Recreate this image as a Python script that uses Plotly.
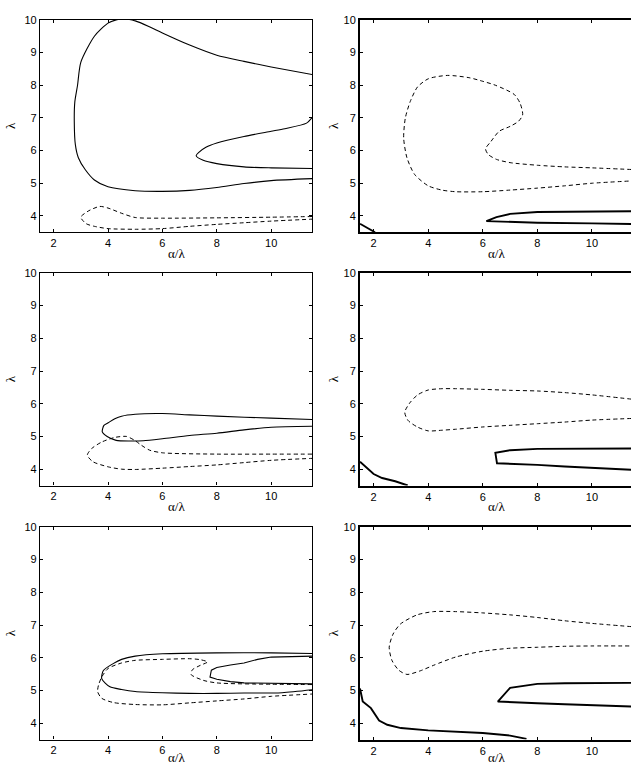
import plotly.graph_objects as go

# ---------------- data ----------------
x_ticks = [2, 4, 6, 8, 10]
y_ticks = [4, 5, 6, 7, 8, 9, 10]
x_label = "α/λ"
y_label = "λ"

# Panel 1 (top-left)
p1_solid_a_x = [11.5, 10, 9, 8, 7, 6, 5.5, 5.0, 4.6, 4.3, 4.0, 3.5, 3.0, 2.88, 2.78, 2.76, 2.8, 2.91, 3.16, 3.5, 4.0, 5, 6, 7, 8, 9, 10, 11.5]
p1_solid_a_y = [8.33, 8.56, 8.73, 8.92, 9.23, 9.6, 9.8, 9.97, 10.03, 10.0, 9.9, 9.5, 8.7, 8.0, 7.49, 6.9, 6.18, 5.78, 5.42, 5.1, 4.89, 4.77, 4.75, 4.78, 4.87, 4.99, 5.08, 5.14]
p1_solid_b_x = [11.5, 11.3, 10.5, 10, 9, 8, 7.6, 7.35, 7.24, 7.5, 8, 9, 10, 11.5]
p1_solid_b_y = [7.01, 6.84, 6.67, 6.59, 6.43, 6.23, 6.1, 5.95, 5.84, 5.7, 5.6, 5.5, 5.47, 5.45]
p1_dash_x = [11.5, 10, 8, 6, 5, 4.5, 4.0, 3.7, 3.3, 3.0, 3.2, 3.5, 4, 5, 6, 7, 8, 9, 10, 11.5]
p1_dash_y = [3.98, 3.96, 3.94, 3.93, 3.95, 4.08, 4.24, 4.29, 4.16, 3.96, 3.76, 3.68, 3.61, 3.59, 3.61, 3.68, 3.74, 3.79, 3.84, 3.9]

# Panel 2 (top-right)
p2_dash_x = [11.45, 10, 9, 8, 7, 6.5, 6.2, 6.1, 6.3, 6.6, 7.0, 7.3, 7.46, 7.37, 7.15, 6.46, 6.0, 5.5, 4.71, 4.01, 3.61, 3.34, 3.16, 3.1, 3.22, 3.5, 4.0, 4.5, 5, 6, 7, 8, 9, 10, 11.45]
p2_dash_y = [5.42, 5.47, 5.5, 5.55, 5.63, 5.73, 5.88, 6.05, 6.28, 6.59, 6.74, 6.89, 7.09, 7.44, 7.72, 8.0, 8.12, 8.23, 8.3, 8.2, 7.95, 7.5, 6.99, 6.38, 5.78, 5.27, 4.92, 4.79, 4.74, 4.74, 4.79, 4.85, 4.92, 5.0, 5.07]
p2_solid_x = [11.45, 10, 8, 7, 6.5, 6.13, 7, 8, 10, 11.45]
p2_solid_y = [4.14, 4.14, 4.12, 4.06, 3.96, 3.84, 3.81, 3.79, 3.77, 3.75]
p2_corner_x = [1.5, 2.05]
p2_corner_y = [3.76, 3.5]

# Panel 3 (middle-left)
p3_solid_x = [11.5, 10, 8, 7, 6, 5, 4.5, 4.25, 4.01, 3.85, 3.79, 3.97, 4.3, 4.8, 5.3, 6, 7, 8, 9, 10, 11.5]
p3_solid_y = [5.52, 5.56, 5.62, 5.66, 5.7, 5.68, 5.62, 5.54, 5.42, 5.34, 5.14, 5.0, 4.88, 4.86, 4.87, 4.93, 5.03, 5.1, 5.2, 5.28, 5.31]
p3_dash_x = [11.5, 10, 8, 6, 5.53, 5.23, 4.98, 4.68, 4.25, 3.77, 3.4, 3.24, 3.44, 4.01, 4.5, 5, 6, 7, 8, 9, 10, 11.5]
p3_dash_y = [4.46, 4.46, 4.46, 4.5, 4.58, 4.73, 4.88, 5.0, 4.97, 4.83, 4.63, 4.43, 4.23, 4.07, 4.0, 3.99, 4.03, 4.08, 4.13, 4.2, 4.27, 4.33]

# Panel 4 (middle-right)
p4_dash_x = [11.45, 10, 9, 8, 7, 6, 5, 4.5, 4, 3.61, 3.32, 3.14, 3.26, 3.6, 4, 4.5, 5, 6, 7, 8, 9, 10, 11.45]
p4_dash_y = [6.14, 6.27, 6.34, 6.39, 6.41, 6.44, 6.46, 6.46, 6.42, 6.27, 6.02, 5.74, 5.49, 5.29, 5.17, 5.19, 5.22, 5.29, 5.34, 5.39, 5.44, 5.5, 5.55]
p4_solid_x = [11.45, 10, 8, 7, 6.46, 6.52, 7, 8, 9, 10, 11.45]
p4_solid_y = [4.63, 4.63, 4.62, 4.58, 4.5, 4.18, 4.17, 4.13, 4.08, 4.04, 3.98]
p4_corner_x = [1.5, 2.0, 2.31, 2.79, 3.25]
p4_corner_y = [4.23, 3.85, 3.73, 3.63, 3.5]

# Panel 5 (bottom-left)
p5_outer_x = [11.5, 10, 8, 6, 5, 4.5, 4.19, 3.83, 3.77, 4.07, 4.5, 5, 6, 7, 8, 9, 10.4, 11.5]
p5_outer_y = [6.13, 6.15, 6.15, 6.12, 6.05, 5.95, 5.82, 5.61, 5.36, 5.11, 5.03, 4.97, 4.93, 4.91, 4.91, 4.92, 4.93, 5.02]
p5_inner_x = [11.5, 10, 9.5, 9, 8.5, 8, 7.8, 7.75, 8, 8.5, 9, 10, 11.5]
p5_inner_y = [6.05, 6.02, 5.95, 5.84, 5.78, 5.7, 5.62, 5.41, 5.34, 5.27, 5.23, 5.21, 5.2]
p5_dash_x = [11.5, 10, 8, 7.5, 7.05, 7.1, 7.4, 7.66, 7.4, 7.0, 6.0, 5.0, 4.5, 4.0, 3.77, 3.65, 3.62, 3.77, 4.2, 5, 6, 7, 8, 9, 10, 11.5]
p5_dash_y = [5.18, 5.19, 5.23, 5.31, 5.49, 5.63, 5.77, 5.87, 5.94, 5.97, 5.95, 5.92, 5.84, 5.67, 5.41, 5.16, 4.96, 4.76, 4.63, 4.57, 4.56, 4.62, 4.68, 4.74, 4.82, 4.89]

# Panel 6 (bottom-right)
p6_dash_x = [11.45, 10, 9, 8, 7, 6, 5, 4.2, 3.59, 2.98, 2.71, 2.57, 2.67, 2.92, 3.22, 3.71, 4.2, 5, 6, 7, 8, 9, 10, 11.45]
p6_dash_y = [6.95, 7.05, 7.13, 7.23, 7.31, 7.37, 7.41, 7.41, 7.31, 7.03, 6.72, 6.32, 5.92, 5.62, 5.49, 5.6, 5.77, 6.02, 6.2, 6.29, 6.32, 6.35, 6.36, 6.36]
p6_solid_x = [11.45, 10, 9, 8, 7.5, 7.0, 6.55, 7, 8, 9, 10, 11.45]
p6_solid_y = [5.23, 5.23, 5.22, 5.2, 5.15, 5.08, 4.66, 4.65, 4.61, 4.58, 4.55, 4.51]
p6_corner_x = [1.5, 1.6, 1.9, 2.0, 2.2, 2.5, 3.0, 4, 5, 6, 7, 7.6]
p6_corner_y = [5.06, 4.66, 4.46, 4.34, 4.08, 3.95, 3.85, 3.78, 3.73, 3.7, 3.62, 3.52]

# ---------------- figure ----------------
W, H = 631, 766
fig = go.Figure()

# panel geometry in pixels: (left, right, top, bottom)
left_col = (40, 312)
right_col = (360, 631)
rows = [(14, 228), (269, 483.3), (525, 739.3)]
x_range_left = [1.5, 11.5]
x_range_right = [1.5, 11.43]
y_range = [3.5, 10]

# (x, y, dash?, smooth?)
panels = [
    (0, 0, [(p1_solid_a_x, p1_solid_a_y, False, True), (p1_solid_b_x, p1_solid_b_y, False, True), (p1_dash_x, p1_dash_y, True, True)]),
    (0, 1, [(p2_dash_x, p2_dash_y, True, True), (p2_solid_x, p2_solid_y, False, False), (p2_corner_x, p2_corner_y, False, False)]),
    (1, 0, [(p3_solid_x, p3_solid_y, False, True), (p3_dash_x, p3_dash_y, True, True)]),
    (1, 1, [(p4_dash_x, p4_dash_y, True, True), (p4_solid_x, p4_solid_y, False, False), (p4_corner_x, p4_corner_y, False, False)]),
    (2, 0, [(p5_outer_x, p5_outer_y, False, True), (p5_inner_x, p5_inner_y, False, False), (p5_dash_x, p5_dash_y, True, True)]),
    (2, 1, [(p6_dash_x, p6_dash_y, True, True), (p6_solid_x, p6_solid_y, False, False), (p6_corner_x, p6_corner_y, False, False)]),
]

tick_font = dict(family="Liberation Sans, Arial, sans-serif", size=11, color="black")
label_font = dict(family="Liberation Serif, Times New Roman, serif", size=13, color="black")

annotations = []
for i, (r, c, traces) in enumerate(panels):
    n = i + 1
    xa = "x" if n == 1 else f"x{n}"
    ya = "y" if n == 1 else f"y{n}"
    xl, xr = left_col if c == 0 else right_col
    yt, yb = rows[r]
    solid_w = 1.1 if c == 0 else 1.9
    frame_w = 1.2 if c == 0 else 1.9
    for tx, ty, dashed, smooth in traces:
        fig.add_trace(go.Scatter(
            x=tx, y=ty, mode="lines", xaxis=xa, yaxis=ya, showlegend=False,
            hoverinfo="skip",
            line=dict(color="black", width=(1.0 if dashed else solid_w),
                      dash=("4px,3px" if dashed else "solid"),
                      shape=("spline" if smooth else "linear"),
                      smoothing=(0.7 if smooth else None)),
        ))
    xkey = "xaxis" if n == 1 else f"xaxis{n}"
    ykey = "yaxis" if n == 1 else f"yaxis{n}"
    fig.layout[xkey] = dict(
        domain=[xl / W, xr / W], anchor=ya,
        range=(x_range_left if c == 0 else x_range_right),
        tickvals=x_ticks, ticks="inside", ticklen=3, tickwidth=1, tickcolor="black",
        showline=True, linecolor="black", linewidth=frame_w, mirror="ticks",
        showgrid=False, zeroline=False, tickfont=tick_font, fixedrange=True,
    )
    fig.layout[ykey] = dict(
        domain=[1 - yb / H, 1 - yt / H], anchor=xa,
        range=y_range,
        tickvals=y_ticks, ticks="inside", ticklen=3, tickwidth=1, tickcolor="black",
        showline=True, linecolor="black", linewidth=frame_w,
        mirror=("ticks" if c == 0 else False),
        showgrid=False, zeroline=False, tickfont=tick_font, fixedrange=True,
    )
    # axis labels
    xc = (176 if c == 0 else 496) / W
    label_y = min(yb + 21, H - 9)
    annotations.append(dict(text=x_label, x=xc, y=1 - label_y / H, xref="paper", yref="paper",
                            showarrow=False, font=label_font, xanchor="center", yanchor="middle"))
    ylx = (10 if c == 0 else 333) / W
    annotations.append(dict(text=y_label, x=ylx, y=1 - ((yt + yb) / 2) / H, xref="paper", yref="paper",
                            showarrow=False, font=label_font, textangle=-90,
                            xanchor="center", yanchor="middle"))

fig.update_layout(
    width=W, height=H, margin=dict(l=0, r=0, t=0, b=0),
    paper_bgcolor="white", plot_bgcolor="white",
    annotations=annotations, showlegend=False,
)

fig.write_html("out.html")
